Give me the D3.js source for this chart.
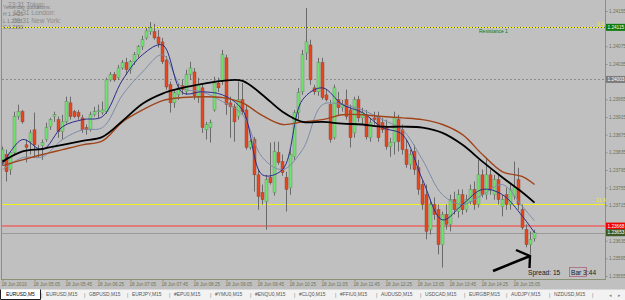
<!DOCTYPE html>
<html><head><meta charset="utf-8">
<script src="https://cdn.jsdelivr.net/npm/d3@7"></script>
<style>
body{margin:0;background:#c0c0c0;overflow:hidden}
svg{display:block;font-family:Arial,"Liberation Sans",sans-serif}
</style>
</head><body>
<svg id="c" width="625" height="300"></svg>
<script>
// ---- data (EURUSD, M5, 18 Jun 2010, bars from 04:25) ----
const opens=[1.23818,1.23830,1.23796,1.23834,1.23916,1.23927,1.23852,1.23859,1.23886,1.23841,1.23850,1.23864,1.23893,1.23916,1.23909,1.23882,1.23904,1.23947,1.23927,1.23925,1.23913,1.23891,1.23886,1.23920,1.23927,1.23925,1.23927,1.23999,1.24011,1.24004,1.24026,1.24038,1.24022,1.24040,1.24056,1.24074,1.24094,1.24108,1.24108,1.24096,1.24085,1.24044,1.23988,1.23947,1.23965,1.23986,1.23972,1.24011,1.24017,1.23959,1.23981,1.23886,1.23891,1.23931,1.23992,1.23995,1.24049,1.23947,1.23938,1.23916,1.23954,1.23931,1.23846,1.23864,1.23784,1.23744,1.23724,1.23778,1.23744,1.23834,1.23814,1.23778,1.23755,1.23825,1.23925,1.23972,1.24060,1.24078,1.23981,1.23972,1.24038,1.23965,1.23943,1.23868,1.23954,1.23936,1.23954,1.23931,1.23879,1.23954,1.23913,1.23920,1.23868,1.23913,1.23916,1.23902,1.23891,1.23848,1.23857,1.23909,1.23886,1.23841,1.23807,1.23837,1.23800,1.23762,1.23739,1.23660,1.23717,1.23705,1.23626,1.23694,1.23672,1.23728,1.23701,1.23739,1.23705,1.23724,1.23751,1.23717,1.23784,1.23739,1.23784,1.23739,1.23773,1.23712,1.23739,1.23717,1.23735,1.23773,1.23705,1.23660,1.23626,1.23640];
const highs=[1.23848,1.23841,1.23807,1.23927,1.23943,1.23931,1.23864,1.23886,1.23925,1.23852,1.23864,1.23902,1.23913,1.23927,1.23916,1.23920,1.23961,1.23961,1.23931,1.23931,1.23920,1.23898,1.23927,1.23938,1.23943,1.23950,1.24004,1.24017,1.24017,1.24033,1.24044,1.24049,1.24044,1.24062,1.24078,1.24099,1.24117,1.24130,1.24126,1.24112,1.24094,1.24053,1.23995,1.23977,1.23990,1.23999,1.24022,1.24040,1.24026,1.24004,1.23990,1.23904,1.23909,1.24006,1.24004,1.24067,1.24056,1.23961,1.23945,1.23995,1.23992,1.23943,1.23864,1.23870,1.23796,1.23762,1.23784,1.23857,1.23859,1.23859,1.23830,1.23791,1.23841,1.23931,1.23981,1.24067,1.24162,1.24090,1.23988,1.24049,1.24049,1.23977,1.23954,1.23988,1.23972,1.23954,1.23977,1.23943,1.23961,1.23963,1.23936,1.23931,1.23913,1.23927,1.23927,1.23913,1.23909,1.23868,1.23927,1.23920,1.23898,1.23864,1.23841,1.23852,1.23818,1.23773,1.23762,1.23728,1.23733,1.23717,1.23701,1.23717,1.23739,1.23746,1.23751,1.23751,1.23739,1.23762,1.23769,1.23818,1.23796,1.23823,1.23796,1.23784,1.23784,1.23739,1.23755,1.23762,1.23814,1.23800,1.23717,1.23672,1.23656,1.23660];
const lows=[1.23807,1.23769,1.23784,1.23830,1.23909,1.23900,1.23812,1.23830,1.23823,1.23823,1.23818,1.23859,1.23886,1.23904,1.23868,1.23864,1.23900,1.23909,1.23913,1.23909,1.23879,1.23875,1.23882,1.23916,1.23913,1.23920,1.23922,1.23995,1.23995,1.23999,1.24022,1.24011,1.24013,1.24033,1.24049,1.24067,1.24090,1.24101,1.24090,1.24072,1.24035,1.23977,1.23925,1.23936,1.23954,1.23965,1.23965,1.23999,1.23954,1.23947,1.23879,1.23864,1.23857,1.23927,1.23972,1.23988,1.23920,1.23868,1.23859,1.23909,1.23920,1.23841,1.23841,1.23746,1.23705,1.23717,1.23660,1.23762,1.23737,1.23807,1.23782,1.23701,1.23739,1.23818,1.23909,1.23965,1.24044,1.23988,1.23965,1.23963,1.23954,1.23950,1.23857,1.23864,1.23920,1.23927,1.23909,1.23846,1.23868,1.23904,1.23898,1.23864,1.23859,1.23898,1.23859,1.23879,1.23841,1.23825,1.23830,1.23837,1.23830,1.23800,1.23796,1.23784,1.23739,1.23705,1.23638,1.23649,1.23682,1.23604,1.23574,1.23660,1.23656,1.23694,1.23687,1.23694,1.23699,1.23717,1.23705,1.23710,1.23733,1.23728,1.23739,1.23728,1.23717,1.23690,1.23705,1.23705,1.23728,1.23705,1.23660,1.23620,1.23604,1.23633];
const closes=[1.23841,1.23791,1.23834,1.23916,1.23927,1.23904,1.23846,1.23879,1.23852,1.23843,1.23857,1.23891,1.23909,1.23920,1.23882,1.23904,1.23950,1.23916,1.23916,1.23916,1.23886,1.23886,1.23920,1.23927,1.23929,1.23931,1.23999,1.24011,1.23999,1.24026,1.24038,1.24022,1.24040,1.24056,1.24074,1.24090,1.24110,1.24117,1.24094,1.24081,1.24040,1.23983,1.23947,1.23970,1.23981,1.23977,1.24011,1.24026,1.23963,1.23988,1.23891,1.23898,1.23902,1.23992,1.23981,1.24056,1.23943,1.23938,1.23904,1.23954,1.23927,1.23846,1.23859,1.23784,1.23735,1.23728,1.23773,1.23766,1.23837,1.23812,1.23789,1.23751,1.23830,1.23925,1.23970,1.24056,1.24085,1.23999,1.23972,1.24038,1.23959,1.23954,1.23864,1.23981,1.23936,1.23943,1.23916,1.23868,1.23954,1.23913,1.23925,1.23870,1.23902,1.23909,1.23868,1.23886,1.23848,1.23857,1.23913,1.23859,1.23841,1.23807,1.23830,1.23796,1.23751,1.23717,1.23656,1.23717,1.23694,1.23626,1.23694,1.23672,1.23728,1.23705,1.23739,1.23705,1.23728,1.23751,1.23717,1.23784,1.23739,1.23784,1.23751,1.23773,1.23728,1.23728,1.23717,1.23751,1.23755,1.23717,1.23665,1.23626,1.23638,1.23653];

// moving averages, read at these bar numbers
const maBars=[0,5,10,15,20,25,30,35,40,45,50,55,60,65,70,75,80,85,90,95,100,105,110,115,120,125,130,133];
const maBlack=[1.23814,1.23837,1.23843,1.23852,1.23861,1.23870,1.23906,1.23945,1.23968,1.23981,1.23990,1.23997,1.23997,1.23965,1.23927,1.23904,1.23904,1.23900,1.23898,1.23893,1.23893,1.23891,1.23879,1.23852,1.23814,1.23778,1.23744,1.23721];
const maBrown=[1.23805,1.23818,1.23830,1.23841,1.23852,1.23861,1.23904,1.23931,1.23952,1.23959,1.23961,1.23959,1.23947,1.23918,1.23898,1.23904,1.23909,1.23920,1.23920,1.23916,1.23913,1.23909,1.23898,1.23875,1.23830,1.23791,1.23780,1.23762];
const maNavy=[1.23807,1.23864,1.23841,1.23893,1.23909,1.23916,1.23999,1.24056,1.24078,1.23970,1.23972,1.23965,1.23931,1.23784,1.23796,1.23954,1.23981,1.23943,1.23925,1.23891,1.23875,1.23773,1.23682,1.23717,1.23751,1.23739,1.23690,1.23653];
const maSlate=[1.23796,1.23823,1.23825,1.23864,1.23886,1.23891,1.23965,1.24017,1.24056,1.23981,1.23972,1.23950,1.23920,1.23823,1.23796,1.23841,1.23943,1.23943,1.23931,1.23909,1.23886,1.23818,1.23739,1.23717,1.23739,1.23762,1.23712,1.23680];

const priceTicks=[1.24155,1.24115,1.24075,1.24035,1.23995,1.23955,1.23915,1.23875,1.23835,1.23795,1.23755,1.23715,1.23675,1.23635,1.23595,1.23555];
const timeTickBars=[0,8,16,24,32,40,48,56,64,72,80,88,96,104,112,120,128];
const timeTickLabels=["18 Jun 2010","18 Jun 05:05","18 Jun 05:45","18 Jun 06:25","18 Jun 07:05","18 Jun 07:45","18 Jun 08:25","18 Jun 09:05","18 Jun 09:45","18 Jun 10:25","18 Jun 11:05","18 Jun 11:45","18 Jun 12:25","18 Jun 13:05","18 Jun 13:45","18 Jun 14:25","18 Jun 15:05"];

const resistance=1.24118, pivotLevel=1.24000, fibLevel=1.23719, alertLevel=1.23668, bidPrice=1.23653;
const boxLabels=[["1.24115",resistance,"#0c7a0c"],["1.24003",pivotLevel,"#7c7c7c"],["1.23668",alertLevel,"#f00000"],["1.23653",bidPrice,"#3d5a26"]];
const tabs=["EURUSD,M5","EURUSD,M15","GBPUSD,M15","EURJPY,M15","#EPU0,M15","#YMU0,M15","#ENQU0,M15","#CLQ0,M15","#FFIU0,M15","AUDUSD,M15","USDCAD,M15","EURGBP,M15","AUDJPY,M15","NZDUSD,M15"];
const tabX=[6,46,89,132,174,215,255,299,340,381,425,469,511,554];

// ---- drawing ----
const svg=d3.select("#c");
const W=625,H=300, plotR=605, plotB=279;
const x=d3.scaleLinear().domain([0,150.25]).range([2,603]);
const y=d3.scaleLinear().domain([1.23555,1.24155]).range([276,11]);
const axisCol="#6f7255", lineCol="#8a9274";
const fmt=d3.format(".5f");

svg.append("rect").attr("width",W).attr("height",H).attr("fill","#c0c0c0");

svg.append("clipPath").attr("id","plot").append("rect").attr("x",2).attr("y",0).attr("width",plotR-2).attr("height",plotB);
const g=svg.append("g").attr("clip-path","url(#plot)");

// horizontal levels
const ry=v=>Math.round(y(v))+0.5;
g.append("line").attr("x1",2).attr("x2",plotR).attr("y1",ry(resistance)).attr("y2",ry(resistance)).attr("stroke","#505050");
g.append("line").attr("x1",2).attr("x2",plotR).attr("y1",ry(resistance)).attr("y2",ry(resistance)).attr("stroke","#ffff00").attr("stroke-dasharray","2,1");
g.append("line").attr("x1",2).attr("x2",plotR).attr("y1",ry(pivotLevel)).attr("y2",ry(pivotLevel)).attr("stroke","#8c8c8c").attr("stroke-dasharray","2,2");
g.append("line").attr("x1",2).attr("x2",plotR).attr("y1",ry(fibLevel)).attr("y2",ry(fibLevel)).attr("stroke","#f0f020");
g.append("line").attr("x1",2).attr("x2",plotR).attr("y1",Math.round(y(alertLevel))).attr("y2",Math.round(y(alertLevel))).attr("stroke","#e07c7c").attr("stroke-width",2);
g.append("line").attr("x1",2).attr("x2",plotR).attr("y1",ry(bidPrice)).attr("y2",ry(bidPrice)).attr("stroke","#9a9a9a");

// candles
const idx=d3.range(opens.length);
const cg=g.append("g");
cg.selectAll("line.w").data(idx).join("line").attr("class","w")
  .attr("x1",i=>Math.round(x(i))+0.5).attr("x2",i=>Math.round(x(i))+0.5)
  .attr("y1",i=>y(highs[i])).attr("y2",i=>y(lows[i]))
  .attr("stroke","#6a6a6a").attr("stroke-width",1);
cg.selectAll("rect.b").data(idx).join("rect").attr("class","b")
  .attr("x",i=>Math.round(x(i))-1).attr("width",3)
  .attr("y",i=>Math.min(y(opens[i]),y(closes[i])))
  .attr("height",i=>Math.max(1,Math.abs(y(opens[i])-y(closes[i]))))
  .attr("fill",i=>closes[i]>=opens[i]?"#6fe36f":"#e8461e")
  .attr("stroke",i=>closes[i]>=opens[i]?"#4f8f4f":"#9a3a20").attr("stroke-width",0.4);

// moving averages
const line=vals=>d3.line().x((d,i)=>x(maBars[i])+0.5).y(d=>y(d)).curve(d3.curveCatmullRom)(vals);
g.append("path").attr("d",line(maSlate)).attr("fill","none").attr("stroke","#7d8ca8").attr("stroke-width",1);
g.append("path").attr("d",line(maNavy)).attr("fill","none").attr("stroke","#2a2a8a").attr("stroke-width",1);
g.append("path").attr("d",line(maBrown)).attr("fill","none").attr("stroke","#a0441a").attr("stroke-width",1.4);
g.append("path").attr("d",line(maBlack)).attr("fill","none").attr("stroke","#000").attr("stroke-width",1.8);

// borders
svg.append("line").attr("x1",1.5).attr("x2",1.5).attr("y1",0).attr("y2",plotB).attr("stroke",lineCol);
svg.append("line").attr("x1",plotR+0.5).attr("x2",plotR+0.5).attr("y1",0).attr("y2",plotB+1).attr("stroke",lineCol);
svg.append("line").attr("x1",1).attr("x2",plotR+1).attr("y1",plotB+0.5).attr("y2",plotB+0.5).attr("stroke",lineCol);

// price axis (tick labels hidden under a price box are not drawn, as in the screenshot)
const hidden=t=>boxLabels.some(b=>Math.abs(y(b[1])-y(t))<6);
const ya=svg.append("g").attr("transform",`translate(${plotR+0.5},0)`)
  .call(d3.axisRight(y).tickValues(priceTicks).tickSize(2).tickPadding(1.5).tickFormat(fmt));
ya.select(".domain").remove();
ya.selectAll("line").attr("stroke",lineCol);
ya.selectAll(".tick").filter(d=>hidden(d)).select("text").remove();
ya.selectAll("text").attr("fill",axisCol).style("font-size","4.7px").attr("dy","0.35em");

// price boxes on the axis
boxLabels.forEach(([txt,p,fill])=>{
  const yy=y(p);
  svg.append("rect").attr("x",plotR+1).attr("y",yy-3.5).attr("width",19).attr("height",7).attr("fill",fill);
  svg.append("text").attr("x",plotR+2.5).attr("y",yy+1.7).attr("fill","#fff").style("font-size","4.7px").text(txt);
});

// time axis
const xa=svg.append("g").attr("transform",`translate(0,${plotB+0.5})`)
  .call(d3.axisBottom(x).tickValues(timeTickBars).tickSize(2).tickFormat((d,i)=>timeTickLabels[i]));
xa.select(".domain").remove();
xa.selectAll("line").attr("stroke",lineCol).attr("transform","translate(0.5,0)");
xa.selectAll("text").attr("fill",axisCol).style("font-size","4.6px").attr("text-anchor","start").attr("dx","-1").attr("y",3);

// level labels
svg.append("text").attr("x",479).attr("y",33).attr("fill","#0a7a0a").style("font-size","5px").text("Resistance 1");
svg.append("text").attr("x",597).attr("y",y(resistance)-1.5).attr("fill","#f0f000").style("font-size","5px").text("0.0");
svg.append("text").attr("x",596).attr("y",y(fibLevel)-1.5).attr("fill","#f0f000").style("font-size","5px").text("21.6");

// top-left info (overlapping texts as in the screenshot)
const info=svg.append("g").attr("fill","#8a8a8a").style("font-size","6.6px");
info.append("text").attr("x",8).attr("y",7).text("23:31 Tokyo:");
info.append("text").attr("x",13).attr("y",15).text("15:31 London:");
info.append("text").attr("x",13).attr("y",23).text("09:31 New York:");
const q=svg.append("g").attr("fill","#7a7a7a").style("font-size","5px");
q.append("text").attr("x",3).attr("y",9).text("Yesterday quotations:");
q.append("text").attr("x",3).attr("y",16).text("H 1.2425");
q.append("text").attr("x",3).attr("y",22.5).text("L 1.2303");
q.append("text").attr("x",3).attr("y",29).text("C 1.2390");

// arrow
svg.append("path").attr("d","M493,271 L530,256").attr("stroke","#000").attr("stroke-width",2.6).attr("fill","none");
svg.append("path").attr("d","M516,250 L530,256 L529.5,268").attr("stroke","#000").attr("stroke-width",2.4).attr("fill","none");

// spread / bar timer
svg.append("text").attr("x",528).attr("y",274.5).attr("fill","#1a1a1a").style("font-size","6.6px").text("Spread: 15");
svg.append("rect").attr("x",569.5).attr("y",267.5).attr("width",17).attr("height",9).attr("fill","none").attr("stroke","#b0607a").attr("stroke-width",0.8);
svg.append("text").attr("x",571).attr("y",274.5).attr("fill","#1a1a1a").style("font-size","6.6px").text("Bar  3");
svg.append("text").attr("x",587).attr("y",274.5).attr("fill","#1a1a1a").style("font-size","6.6px").text(":44");

// tab bar
svg.append("rect").attr("x",0).attr("y",289).attr("width",W).attr("height",11).attr("fill","#f2f2f2");
svg.append("line").attr("x1",0).attr("x2",W).attr("y1",289.5).attr("y2",289.5).attr("stroke","#d8d8d8");
svg.append("path").attr("d","M0.5,289.5 V299.5 H40.5 V289.5").attr("fill","#fff").attr("stroke","#202020");
const tg=svg.append("g").style("font-size","4.9px");
tg.selectAll("text.t").data(tabs).join("text").attr("class","t")
  .attr("x",(d,i)=>tabX[i]).attr("y",296.3).attr("fill",(d,i)=>i===0?"#000":"#555").text(d=>d);
tg.selectAll("text.s").data(tabs.slice(1).concat([""])).join("text").attr("class","s")
  .attr("x",(d,i)=>i<tabs.length-1?tabX[i+1]-5:592).attr("y",296.5).attr("fill","#777").text("|");
svg.append("text").attr("x",609).attr("y",296.5).attr("fill","#888").style("font-size","5px").text("◂");
svg.append("text").attr("x",618).attr("y",296.5).attr("fill","#888").style("font-size","5px").text("▸");
</script>
</body></html>
